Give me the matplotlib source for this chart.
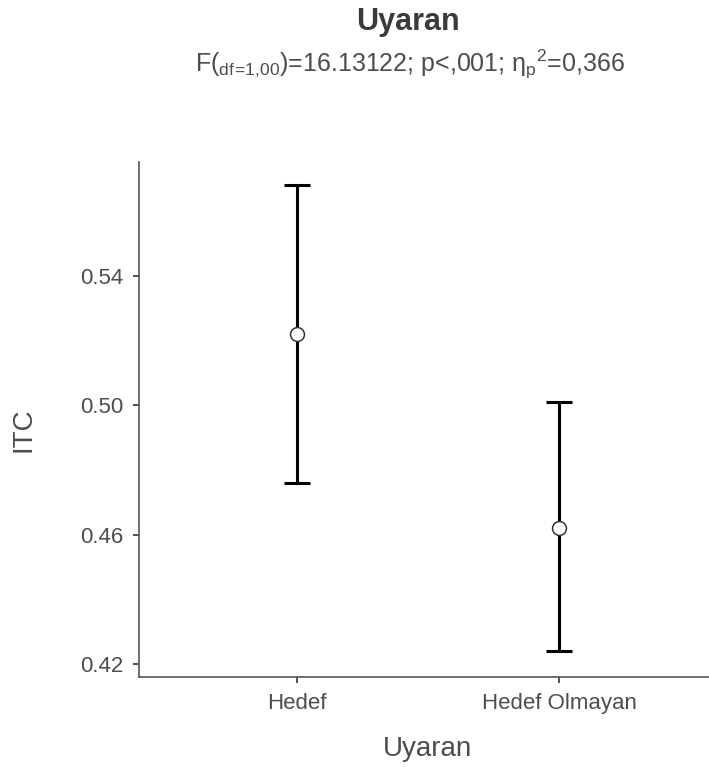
import numpy as np
import matplotlib
matplotlib.use('Agg')
import matplotlib.pyplot as plt

plt.rcParams['font.family'] = ['Liberation Sans', 'DejaVu Sans']
plt.rcParams['mathtext.fontset'] = 'custom'
plt.rcParams['mathtext.rm'] = 'Liberation Sans'

categories = ['Hedef', 'Hedef Olmayan']
means = [0.522, 0.462]
lower = [0.476, 0.424]
upper = [0.568, 0.501]
yticks = [0.42, 0.46, 0.50, 0.54]

title = 'Uyaran'
subtitle = (r'F($_\mathregular{df\!=\!1{,}00}$)=16.13122; p<,001; '
            r'η$_\mathregular{p}$$^\mathregular{2}$=0,366')

gray = '#4d4d4d'

fig = plt.figure(figsize=(7.09, 7.67), dpi=100)
ax = fig.add_axes([0.196, 0.1173, 0.815, 0.6715])

x = np.arange(1, len(categories) + 1)
m = np.array(means)
yerr = [m - np.array(lower), np.array(upper) - m]
ax.errorbar(x, m, yerr=yerr, fmt='none', ecolor='black', elinewidth=2.2,
            capsize=9.5, capthick=2.2, zorder=2)
ax.plot(x, m, 'o', ms=10, mfc='white', mec='#333333', mew=1.1, zorder=3)

ax.set_xlim(0.4, 2.6)
ax.set_ylim(0.4161, 0.5752)
ax.set_xticks(x)
ax.set_xticklabels(categories)
ax.set_yticks(yticks)
ax.set_yticklabels(['%.2f' % v for v in yticks])

for s in ['top', 'right']:
    ax.spines[s].set_visible(False)
for s in ['left', 'bottom']:
    ax.spines[s].set_color('#555555')
    ax.spines[s].set_linewidth(1.2)

ax.tick_params(axis='both', length=4.5, width=1.2, color='#333333',
               labelcolor=gray, labelsize=16, pad=7)

ax.set_ylabel('ITC', fontsize=20, color=gray)
ax.set_xlabel('Uyaran', fontsize=20, color=gray)
ax.yaxis.set_label_coords(-0.178, 0.48)
ax.xaxis.set_label_coords(0.5, -0.115)

fig.text(0.576, 0.961, title, ha='center', va='baseline',
         fontsize=22, fontweight='bold', color='#3a3a3a')
fig.text(0.578, 0.907, subtitle, ha='center', va='baseline',
         fontsize=18, color=gray)

fig.savefig('out.png', dpi=100, facecolor='white')
